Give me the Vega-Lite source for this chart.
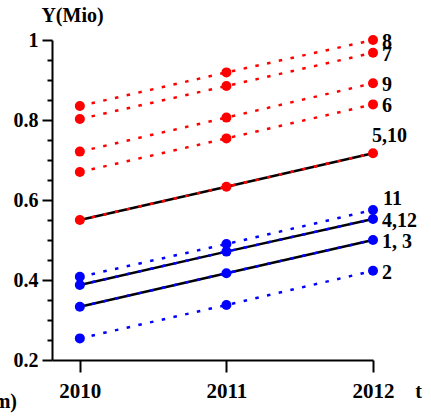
{
  "$schema": "https://vega.github.io/schema/vega-lite/v6.json",
  "autosize": "none",
  "width": 321,
  "height": 320,
  "padding": {"left": 52, "top": 40, "right": 58, "bottom": 56},
  "background": "white",
  "title": {"text": "m)", "orient": "bottom", "frame": "group", "anchor": "start", "align": "right", "dx": -35, "dy": -9, "offset": 0, "font": "Times New Roman", "fontWeight": "bold", "fontSize": 20, "color": "black"},
  "config": {
    "view": {"stroke": null},
    "axis": {"domainColor": "black", "domainWidth": 2, "tickColor": "black", "tickWidth": 2, "labelFont": "Times New Roman", "labelFontWeight": "bold", "labelFontSize": 20, "labelColor": "black", "titleFont": "Times New Roman", "titleFontWeight": "bold", "titleFontSize": 20, "titleColor": "black", "grid": false}
  },
  "data": {"values": [
    {"series": "8", "group": "red", "kind": "single", "year": 2010, "value": 0.835},
    {"series": "8", "group": "red", "kind": "single", "year": 2011, "value": 0.919},
    {"series": "8", "group": "red", "kind": "single", "year": 2012, "value": 1.0},
    {"series": "7", "group": "red", "kind": "single", "year": 2010, "value": 0.8025},
    {"series": "7", "group": "red", "kind": "single", "year": 2011, "value": 0.885},
    {"series": "7", "group": "red", "kind": "single", "year": 2012, "value": 0.968},
    {"series": "9", "group": "red", "kind": "single", "year": 2010, "value": 0.721},
    {"series": "9", "group": "red", "kind": "single", "year": 2011, "value": 0.806},
    {"series": "9", "group": "red", "kind": "single", "year": 2012, "value": 0.892},
    {"series": "6", "group": "red", "kind": "single", "year": 2010, "value": 0.67},
    {"series": "6", "group": "red", "kind": "single", "year": 2011, "value": 0.754},
    {"series": "6", "group": "red", "kind": "single", "year": 2012, "value": 0.839},
    {"series": "5,10", "group": "red", "kind": "multi", "year": 2010, "value": 0.55},
    {"series": "5,10", "group": "red", "kind": "multi", "year": 2011, "value": 0.633},
    {"series": "5,10", "group": "red", "kind": "multi", "year": 2012, "value": 0.717},
    {"series": "11", "group": "blue", "kind": "single", "year": 2010, "value": 0.408},
    {"series": "11", "group": "blue", "kind": "single", "year": 2011, "value": 0.49},
    {"series": "11", "group": "blue", "kind": "single", "year": 2012, "value": 0.575},
    {"series": "4,12", "group": "blue", "kind": "multi", "year": 2010, "value": 0.3875},
    {"series": "4,12", "group": "blue", "kind": "multi", "year": 2011, "value": 0.471},
    {"series": "4,12", "group": "blue", "kind": "multi", "year": 2012, "value": 0.5525},
    {"series": "1, 3", "group": "blue", "kind": "multi", "year": 2010, "value": 0.333},
    {"series": "1, 3", "group": "blue", "kind": "multi", "year": 2011, "value": 0.417},
    {"series": "1, 3", "group": "blue", "kind": "multi", "year": 2012, "value": 0.5},
    {"series": "2", "group": "blue", "kind": "single", "year": 2010, "value": 0.254},
    {"series": "2", "group": "blue", "kind": "single", "year": 2011, "value": 0.3375},
    {"series": "2", "group": "blue", "kind": "single", "year": 2012, "value": 0.423}
  ]},
  "encoding": {
    "x": {"field": "year", "type": "quantitative", "scale": {"domain": [2009.81, 2012], "nice": false, "zero": false},
      "axis": {"values": [2010, 2011, 2012], "format": "d", "tickSize": 12, "labelPadding": 8, "labelFontSize": 21, "labelFlush": false, "labelOverlap": false, "title": "t", "titleAngle": 0, "titleX": 366, "titleY": 37, "titleAlign": "center", "titleBaseline": "alphabetic"}},
    "y": {"field": "value", "type": "quantitative", "scale": {"domain": [0.2, 1], "nice": false, "zero": false},
      "axis": {"values": [0.2, 0.25, 0.3, 0.35, 0.4, 0.45, 0.5, 0.55, 0.6, 0.65, 0.7, 0.75, 0.8, 0.85, 0.9, 0.95, 1.0], "format": "~g",
        "labelExpr": "abs(datum.value*5 - round(datum.value*5)) < 0.001 ? datum.label : ''",
        "tickSize": {"condition": {"test": "abs(datum.value*5 - round(datum.value*5)) < 0.001", "value": 10}, "value": 5},
        "labelPadding": 4, "labelOverlap": false, "labelFlush": false, "labelBound": false,
        "title": "Y(Mio)", "titleAngle": 0, "titleX": 20, "titleY": -19, "titleAlign": "center", "titleBaseline": "alphabetic"}}
  },
  "layer": [
    {"transform": [{"filter": "datum.kind === 'multi'"}],
     "mark": {"type": "line", "color": "black", "strokeWidth": 2.5},
     "encoding": {"detail": {"field": "series"}}},
    {"mark": {"type": "line", "strokeWidth": 2.5, "strokeDash": [3.5, 8.5]},
     "encoding": {"detail": {"field": "series"}, "color": {"field": "group", "type": "nominal", "scale": {"domain": ["red", "blue"], "range": ["#ff0000", "#0000ff"]}, "legend": null}}},
    {"mark": {"type": "point", "filled": true, "opacity": 1, "size": 100, "shape": "circle"},
     "encoding": {"color": {"field": "group", "type": "nominal", "scale": {"domain": ["red", "blue"], "range": ["#ff0000", "#0000ff"]}, "legend": null}}},
    {"transform": [{"filter": "datum.year === 2012 && datum.series !== '5,10' && datum.series !== '11'"}],
     "mark": {"type": "text", "align": "left", "baseline": "middle", "dx": 9, "dy": 2, "font": "Times New Roman", "fontWeight": "bold", "fontSize": 20, "color": "black"},
     "encoding": {"text": {"field": "series"}}},
    {"transform": [{"filter": "datum.year === 2012 && datum.series === '5,10'"}],
     "mark": {"type": "text", "align": "left", "baseline": "middle", "dx": -1, "dy": -17, "font": "Times New Roman", "fontWeight": "bold", "fontSize": 20, "color": "black"},
     "encoding": {"text": {"field": "series"}}},
    {"transform": [{"filter": "datum.year === 2012 && datum.series === '11'"}],
     "mark": {"type": "text", "align": "left", "baseline": "middle", "dx": 10, "dy": -11, "font": "Times New Roman", "fontWeight": "bold", "fontSize": 20, "color": "black"},
     "encoding": {"text": {"field": "series"}}}
  ]
}
